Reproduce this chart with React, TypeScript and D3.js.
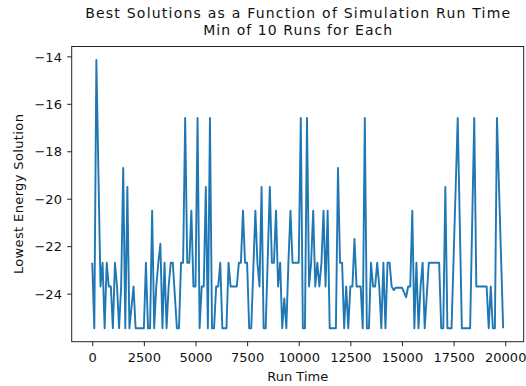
import React, { useRef, useEffect } from "react";
import * as d3 from "d3";

// run time of each point (turning points only)
const runTimes = [
  0, 100, 200, 400, 500, 600, 700, 800, 900, 1000, 1100, 1200, 1300, 1400, 1500, 1600, 1700, 1800,
  2000, 2100, 2500, 2600, 2700, 2800, 2900, 3000, 3100, 3200, 3300, 3400, 3500, 3600, 3700,
  3800, 3900, 4100, 4200, 4300, 4400, 4500, 4600, 4700, 4800, 4900, 5000, 5100, 5200, 5300,
  5400, 5500, 5600, 5700, 5800, 5900, 6000, 6100, 6200, 6300, 6500, 6600, 6700, 7000, 7100,
  7200, 7300, 7400, 7500, 7600, 7700, 7900, 8000, 8100, 8200, 8300, 8400, 8600, 8700, 8800,
  8900, 9000, 9100, 9200, 9300, 9400, 9500, 9600, 9700, 10000, 10100, 10200, 10300, 10400,
  10500, 10600, 10700, 10800, 10900, 11000, 11100, 11200, 11300, 11400, 11500, 11800, 11900,
  12000, 12100, 12200, 12300, 12400, 12500, 12600, 12700, 12800, 13000, 13100, 13200, 13300,
  13400, 13500, 13600, 13700, 13800, 13900, 14000, 14100, 14200, 14300, 14400, 14500, 14600,
  14700, 15000, 15200, 15300, 15400, 15500, 15600, 15700, 15800, 15900, 16000, 16100, 16300,
  16800, 16900, 17000, 17100, 17200, 17400, 17700, 17900, 18300, 18500, 18600, 19100, 19200,
  19300, 19400, 19500, 19600, 19900,
];

// lowest energy found (min of 10 runs) at that run time
const energies = [
  -22.7, -25.46, -14.15, -23.7, -22.7, -25.46, -22.7, -23.7, -23.7, -25.46, -22.7, -23.7, -25.46, -23.7, -18.7, -25.46, -19.5, -25.46,
  -23.7, -25.46, -25.46, -22.7, -25.46, -25.46, -20.5, -25.46, -23.7, -22.7, -21.9, -25.46, -22.7, -25.46, -23.7,
  -22.7, -22.7, -25.46, -25.46, -22.7, -22.7, -16.6, -22.7, -22.7, -20.5, -23.7, -23.7, -16.6, -25.46, -23.7,
  -23.7, -19.5, -25.46, -16.6, -25.46, -25.46, -23.7, -23.7, -22.7, -25.46, -25.46, -22.7, -23.7, -23.7, -22.7,
  -22.7, -20.5, -22.7, -22.7, -25.46, -25.46, -20.5, -22.7, -23.7, -19.5, -25.46, -25.46, -19.5, -22.7, -22.7,
  -20.5, -23.7, -22.7, -25.46, -24.2, -25.46, -22.7, -20.5, -22.7, -22.7, -16.6, -25.46, -25.46, -16.6,
  -23.7, -22.7, -20.5, -23.7, -22.7, -23.7, -22.7, -20.5, -23.7, -20.5, -25.46, -25.46, -18.7,
  -22.7, -22.7, -25.46, -23.7, -25.46, -23.7, -23.7, -21.7, -23.7, -23.7, -25.46, -16.6, -25.46,
  -25.46, -22.7, -23.7, -23.7, -22.7, -23.7, -25.46, -22.7, -25.46, -22.7, -22.7, -23.7, -23.85,
  -23.75, -23.75, -24.15, -23.7, -23.7, -20.5, -25.46, -22.7, -25.46, -23.7, -22.7, -25.46, -22.7,
  -22.7, -25.46, -25.46, -19.5, -25.46, -25.46, -16.6, -25.46, -25.46, -16.6, -23.7, -23.7, -25.46,
  -23.7, -25.46, -25.46, -16.6, -25.46,
];

const xTicks = [0, 2500, 5000, 7500, 10000, 12500, 15000, 17500, 20000];
const yTicks = [-24, -22, -20, -18, -16, -14];

const W = 526;
const H = 386;
const FONT = "DejaVu Sans";

const App = () => {
  const svgRef = useRef<SVGSVGElement>(null);

  useEffect(() => {
    document.body.style.margin = "0";
    const margin = { top: 46.5, right: 2.3, bottom: 44.3, left: 71.7 };
    const width = W - margin.left - margin.right;
    const height = H - margin.top - margin.bottom;

    const svg = d3.select(svgRef.current);
    svg.selectAll("*").remove();

    // 5% padding around the data, like matplotlib
    const [x0, x1] = d3.extent(runTimes) as [number, number];
    const [y0, y1] = d3.extent(energies) as [number, number];
    const px = (x1 - x0) * 0.05;
    const py = (y1 - y0) * 0.05;

    const x = d3.scaleLinear().domain([x0 - px, x1 + px]).range([0, width]);
    const y = d3.scaleLinear().domain([y0 - py, y1 + py]).range([height, 0]);

    const g = svg.append("g").attr("transform", `translate(${margin.left},${margin.top})`);

    g.append("path")
      .datum(runTimes.map((t, i) => [t, energies[i]] as [number, number]))
      .attr("fill", "none")
      .attr("stroke", "#1f77b4")
      .attr("stroke-width", 1.9)
      .attr("stroke-linejoin", "round")
      .attr("d", d3.line().x(d => x(d[0])).y(d => y(d[1])));

    const fmt = (v: number) => (v < 0 ? "\u2212" + Math.abs(v) : String(v));

    const xAxis = g.append("g").attr("transform", `translate(0,${height})`)
      .call(d3.axisBottom(x).tickValues(xTicks).tickSize(4.5).tickFormat(d => String(d)));
    xAxis.selectAll("text").attr("y", 20.5).attr("dy", 0);

    const yAxis = g.append("g")
      .call(d3.axisLeft(y).tickValues(yTicks).tickSize(4.5).tickPadding(5.3).tickFormat(d => fmt(+d)));
    yAxis.selectAll("text").attr("dy", "0.36em");

    [xAxis, yAxis].forEach(a => {
      a.select(".domain").remove();
      a.selectAll("line").attr("stroke", "#222").attr("stroke-width", 1);
      a.selectAll("text").attr("font-family", FONT).attr("font-size", 13).attr("fill", "#111");
    });

    g.append("rect")
      .attr("width", width).attr("height", height)
      .attr("fill", "none").attr("stroke", "#222").attr("stroke-width", 1);

    const cx = margin.left + width / 2;
    const title = svg.append("text").attr("font-family", FONT).attr("font-size", 14)
      .attr("text-anchor", "middle").attr("fill", "#111");
    title.append("tspan").attr("x", cx).attr("y", 18)
      .attr("textLength", 425).attr("lengthAdjust", "spacing")
      .text("Best Solutions as a Function of Simulation Run Time");
    title.append("tspan").attr("x", cx).attr("y", 34.5)
      .attr("textLength", 189).attr("lengthAdjust", "spacing")
      .text("Min of 10 Runs for Each");

    svg.append("text").attr("font-family", FONT).attr("font-size", 13).attr("fill", "#111")
      .attr("text-anchor", "middle").attr("x", cx).attr("y", 381)
      .attr("textLength", 61).attr("lengthAdjust", "spacing")
      .text("Run Time");

    svg.append("text").attr("font-family", FONT).attr("font-size", 13).attr("fill", "#111")
      .attr("text-anchor", "middle")
      .attr("transform", `translate(22.7,${margin.top + height / 2}) rotate(-90)`)
      .attr("textLength", 160).attr("lengthAdjust", "spacing")
      .text("Lowest Energy Solution");
  }, []);

  return <svg ref={svgRef} width={W} height={H} style={{ display: "block", background: "#fff" }} />;
};

export default App;
